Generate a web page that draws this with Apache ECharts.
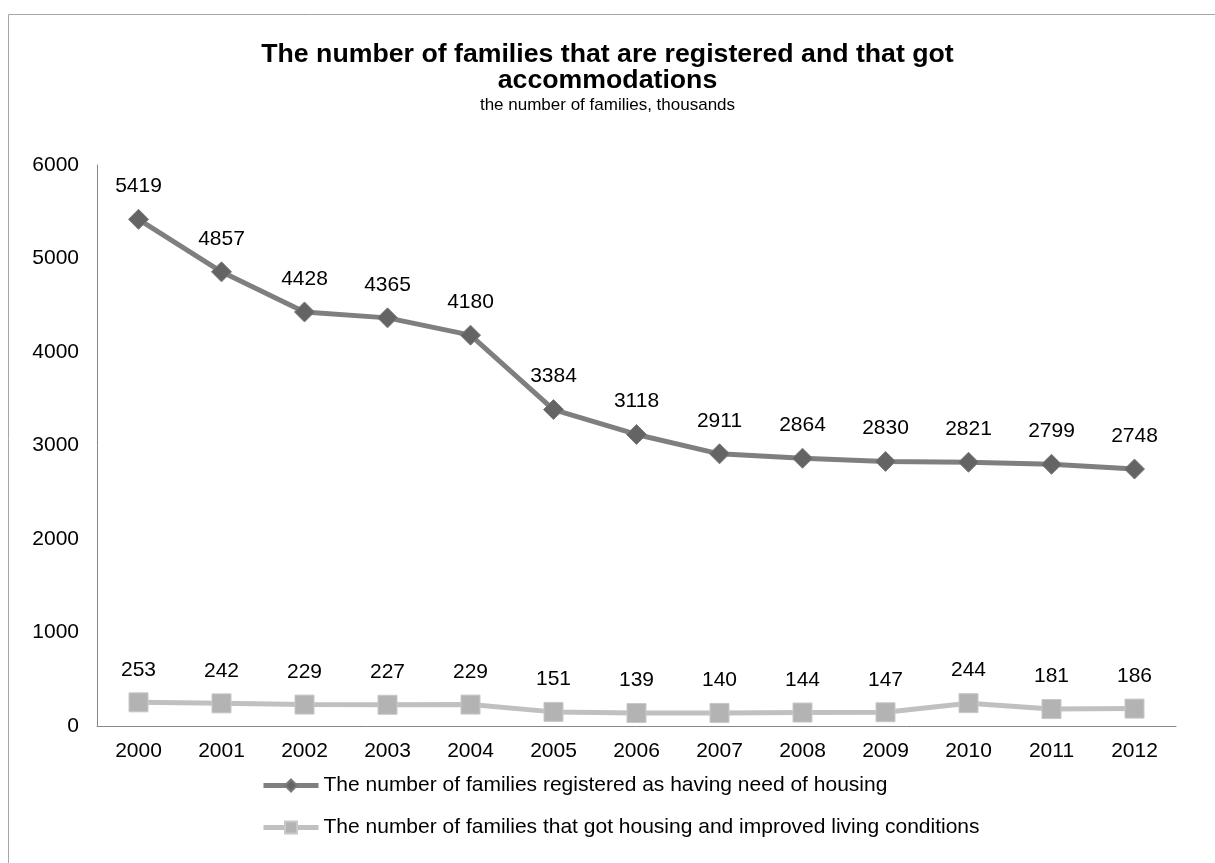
<!DOCTYPE html>
<html>
<head>
<meta charset="utf-8">
<script src="https://cdn.jsdelivr.net/npm/echarts@6/dist/echarts.min.js"></script>
<style>
  html, body { margin: 0; padding: 0; background: #fff; }
  #main { width: 1215px; height: 863px; }
</style>
</head>
<body>
<div id="main"></div>
<script>
var years = ['2000','2001','2002','2003','2004','2005','2006','2007','2008','2009','2010','2011','2012'];
var registered = [5419, 4857, 4428, 4365, 4180, 3384, 3118, 2911, 2864, 2830, 2821, 2799, 2748];
var gotHousing = [253, 242, 229, 227, 229, 151, 139, 140, 144, 147, 244, 181, 186];
var yTicks = [0, 1000, 2000, 3000, 4000, 5000, 6000];

var nameReg = 'The number of families registered as having need of housing';
var nameGot = 'The number of families that got housing and improved living conditions';

var font = 'Liberation Sans, Arial, sans-serif';

var chart = echarts.init(document.getElementById('main'));

var option = {
  animation: false,
  textStyle: { fontFamily: font },
  // 外框
  graphic: [{
    type: 'rect',
    shape: { x: 8.5, y: 14.5, width: 1220, height: 900 },
    style: { fill: 'none', stroke: '#a6a6a6', lineWidth: 1 },
    silent: true
  }],
  title: {
    text: 'The number of families that are registered and that got\naccommodations',
    subtext: 'the number of families, thousands',
    left: 'center',
    top: 37,
    itemGap: 2,
    textStyle: { fontFamily: font, fontSize: 26.7, fontWeight: 'bold', color: '#000', lineHeight: 26 },
    subtextStyle: { fontFamily: font, fontSize: 17, color: '#000' }
  },
  legend: {
    orient: 'vertical',
    left: 256,
    top: 770,
    itemGap: 21,
    itemWidth: 55,
    itemHeight: 15,
    lineStyle: { width: 5 },
    textStyle: { fontFamily: font, fontSize: 21, color: '#000' },
    data: [nameReg, nameGot]
  },
  grid: { left: 97, right: 39, top: 165, bottom: 137, containLabel: false },
  xAxis: {
    type: 'category',
    data: years,
    boundaryGap: true,
    axisLine: { lineStyle: { color: '#868686' } },
    axisTick: { show: false },
    axisLabel: { fontFamily: font, fontSize: 21, color: '#000', margin: 15 }
  },
  yAxis: {
    type: 'value',
    min: yTicks[0],
    max: yTicks[yTicks.length - 1],
    interval: 1000,
    axisLine: { show: true, lineStyle: { color: '#868686' } },
    axisTick: { show: false },
    splitLine: { show: false },
    axisLabel: { fontFamily: font, fontSize: 21, color: '#000', margin: 18, formatter: function (v) { return String(v); } }
  },
  series: [{
    name: nameReg,
    type: 'line',
    data: registered,
    symbol: 'diamond',
    symbolSize: 20,
    lineStyle: { color: '#7f7f7f', width: 5 },
    itemStyle: { color: '#646464', borderColor: '#7a7a7a', borderWidth: 1 },
    label: { show: true, position: 'top', distance: 12, fontFamily: font, fontSize: 21, color: '#000' }
  }, {
    name: nameGot,
    type: 'line',
    data: gotHousing,
    symbol: 'rect',
    symbolSize: 19,
    lineStyle: { color: '#c0c0c0', width: 5 },
    itemStyle: { color: '#b3b3b3', borderColor: '#c8c8c8', borderWidth: 1 },
    label: { show: true, position: 'top', distance: 12, fontFamily: font, fontSize: 21, color: '#000' }
  }]
};

chart.setOption(option);
</script>
</body>
</html>
